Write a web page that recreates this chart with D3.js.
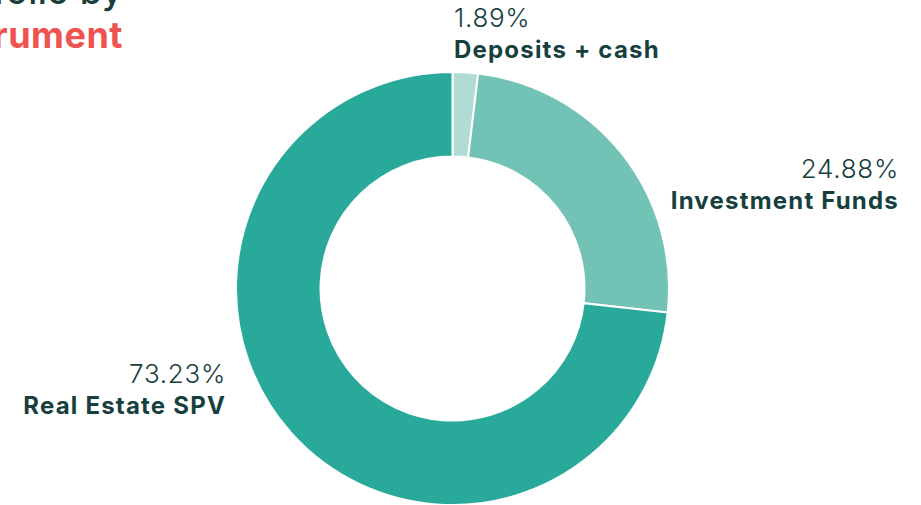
<!DOCTYPE html>
<html>
<head>
<meta charset="utf-8">
<script src="https://cdn.jsdelivr.net/npm/d3@7"></script>
<style>
  body { margin: 0; background: #fff; }
  svg { display: block; }
</style>
</head>
<body>
<div id="chart"></div>
<script>
// Chart data
const categories = ['Deposits + cash', 'Investment Funds', 'Real Estate SPV'];
const shares = [1.89, 24.88, 73.23];
const colors = ['#b0dcd4', '#72c3b5', '#29a99a'];
const titleLines = ['Portfolio by', 'instrument'];

const width = 921;
const height = 505;
const cx = 452.5, cy = 288.5;
const outerR = 216.5, innerR = 132;
const textColor = '#173f3e';

const svg = d3.select('#chart')
  .append('svg')
  .attr('width', width)
  .attr('height', height);

// Title (partly cut off on the left, as in the original)
svg.append('text')
  .attr('x', 123).attr('y', 4)
  .attr('text-anchor', 'end')
  .attr('font-family', 'Inter, sans-serif')
  .attr('font-size', 36).attr('font-weight', 500)
  .attr('letter-spacing', 0.5)
  .attr('fill', textColor)
  .text(titleLines[0]);

svg.append('text')
  .attr('x', 123).attr('y', 48)
  .attr('text-anchor', 'end')
  .attr('font-family', 'Inter, sans-serif')
  .attr('font-size', 36).attr('font-weight', 700)
  .attr('letter-spacing', 0.5)
  .attr('fill', '#ef5350')
  .text(titleLines[1]);

// Donut
const pie = d3.pie().sort(null).value(d => d);
const arcs = pie(shares);
const arc = d3.arc().innerRadius(innerR).outerRadius(outerR);

const g = svg.append('g').attr('transform', `translate(${cx},${cy})`);

g.selectAll('path')
  .data(arcs)
  .join('path')
  .attr('d', arc)
  .attr('fill', (d, i) => colors[i])
  .attr('stroke', '#fff')
  .attr('stroke-width', 2);

// Labels
const labelPos = [
  { x: 454, y: 27, anchor: 'start' },
  { x: 899, y: 178, anchor: 'end' },
  { x: 226, y: 383, anchor: 'end' }
];

const labels = svg.append('g')
  .selectAll('g')
  .data(categories)
  .join('g')
  .attr('transform', (d, i) => `translate(${labelPos[i].x},${labelPos[i].y})`)
  .attr('text-anchor', (d, i) => labelPos[i].anchor)
  .attr('font-family', 'Inter, sans-serif')
  .attr('fill', textColor);

labels.append('text')
  .attr('font-size', 26)
  .attr('font-weight', 300)
  .attr('letter-spacing', 0.7)
  .text((d, i) => shares[i].toFixed(2) + '%');

labels.append('text')
  .attr('y', 31)
  .attr('font-size', 24)
  .attr('font-weight', 700)
  .attr('letter-spacing', 1.2)
  .text(d => d);
</script>
</body>
</html>
